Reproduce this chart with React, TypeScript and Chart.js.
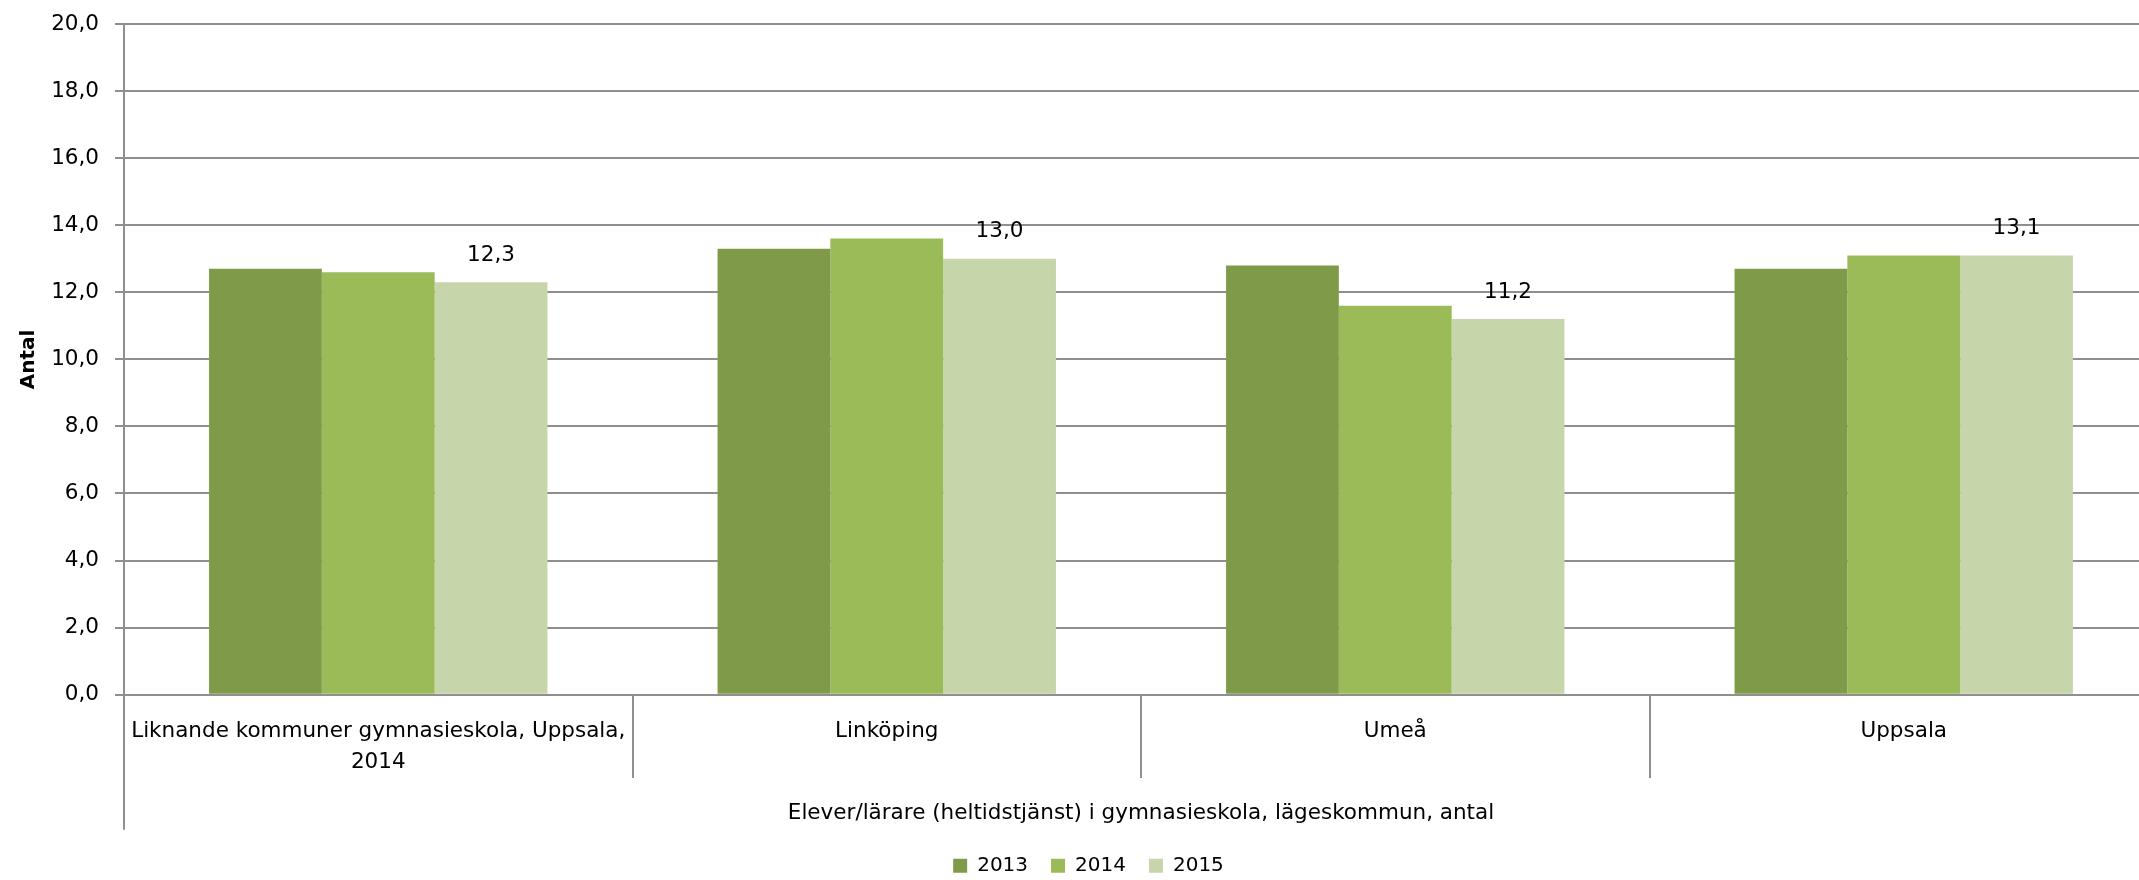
import React, { useEffect, useRef } from 'react';
import { Chart, registerables } from 'chart.js';

Chart.register(...registerables);

const categories: (string | string[])[] = [
  ['Liknande kommuner gymnasieskola, Uppsala,', '2014'],
  'Linköping',
  'Umeå',
  'Uppsala',
];
const seriesNames = ['2013', '2014', '2015'];
const values2013 = [12.7, 13.3, 12.8, 12.7];
const values2014 = [12.6, 13.6, 11.6, 13.1];
const values2015 = [12.3, 13.0, 11.2, 13.1];
const seriesColors = ['#7f9b4a', '#9bbb59', '#c7d5ab'];
const labelledSeries = [2];
const yMin = 0;
const yMax = 20;
const yStep = 2;
const yTitle = 'Antal';
const xTitle = 'Elever/lärare (heltidstjänst) i gymnasieskola, lägeskommun, antal';

const GRID = '#8f8f8f';
const FONT = "'DejaVu Sans', sans-serif";

const fmt = (v: number) => v.toFixed(1).replace('.', ',');

const extrasPlugin = {
  id: 'excelExtras',
  afterDatasetsDraw(chart: any) {
    const { ctx } = chart;
    ctx.save();
    ctx.fillStyle = '#000';
    ctx.font = `21.5px ${FONT}`;
    ctx.textAlign = 'center';
    ctx.textBaseline = 'middle';
    labelledSeries.forEach((di) => {
      const meta = chart.getDatasetMeta(di);
      const vals = chart.data.datasets[di].data as number[];
      meta.data.forEach((bar: any, i: number) => {
        ctx.fillText(fmt(vals[i]), bar.x, bar.y - 27);
      });
    });
    ctx.restore();
  },
  afterDraw(chart: any) {
    const { ctx, chartArea, scales } = chart;
    ctx.save();
    ctx.strokeStyle = GRID;
    ctx.lineWidth = 2;
    ctx.beginPath();
    ctx.moveTo(Math.round(chartArea.left), chartArea.bottom);
    ctx.lineTo(Math.round(chartArea.left), scales.x.bottom - 3);
    ctx.stroke();
    ctx.restore();
  },
};

export default function App() {
  const ref = useRef<HTMLCanvasElement | null>(null);

  useEffect(() => {
    if (!ref.current) return;
    Chart.defaults.font.family = FONT;
    const seriesData = [values2013, values2014, values2015];
    const chart = new Chart(ref.current, {
      type: 'bar',
      data: {
        labels: categories as any,
        datasets: seriesNames.map((name, i) => ({
          label: name,
          data: seriesData[i],
          backgroundColor: seriesColors[i],
          borderWidth: 0,
          categoryPercentage: 0.6655,
          barPercentage: 1,
        })),
      },
      options: {
        responsive: false,
        animation: false,
        devicePixelRatio: 1,
        layout: { padding: { left: 19, right: 30, top: 24, bottom: -5.7 } },
        plugins: {
          legend: {
            position: 'bottom',
            labels: {
              boxWidth: 14,
              boxHeight: 14,
              padding: 23,
              color: '#000',
              font: { size: 20, family: FONT },
            },
          },
          tooltip: { enabled: false },
        },
        scales: {
          x: {
            offset: true,
            grid: {
              display: true,
              offset: true,
              drawOnChartArea: false,
              drawTicks: true,
              tickLength: 83.3,
              color: GRID,
              lineWidth: 2,
            },
            border: { display: true, color: GRID, width: 2 },
            ticks: {
              autoSkip: false,
              maxRotation: 0,
              minRotation: 0,
              padding: -62.8,
              color: '#000',
              font: { size: 21.5, family: FONT, lineHeight: 1.47 },
            },
            title: {
              display: true,
              text: xTitle,
              color: '#000',
              font: { size: 21.5, family: FONT },
              padding: { top: 0, bottom: 6.5 },
            },
            afterFit(scale: any) {
              scale.height = 138;
              scale.paddingLeft = 0;
              scale.paddingRight = 0;
            },
          },
          y: {
            min: yMin,
            max: yMax,
            ticks: {
              stepSize: yStep,
              padding: 16,
              color: '#000',
              font: { size: 21.5, family: FONT },
              callback: (v: any) => fmt(Number(v)),
            },
            grid: {
              color: GRID,
              lineWidth: 2,
              tickLength: 9,
              drawTicks: true,
            },
            border: { display: true, color: GRID, width: 2 },
            title: {
              display: true,
              text: yTitle,
              color: '#000',
              font: { size: 20, weight: 'bold', family: FONT },
              padding: { top: -2, bottom: 4 },
            },
            afterFit(scale: any) {
              scale.width = 105;
              scale.paddingTop = 0;
              scale.paddingBottom = 0;
            },
          },
        },
      } as any,
      plugins: [extrasPlugin],
    });
    return () => chart.destroy();
  }, []);

  return (
    <div
      style={{
        position: 'fixed',
        left: 0,
        top: 0,
        width: 2139,
        height: 880,
        overflow: 'hidden',
        background: '#fff',
      }}
    >
      <canvas ref={ref} width={2188} height={880} style={{ display: 'block', width: 2188, height: 880 }} />
    </div>
  );
}
